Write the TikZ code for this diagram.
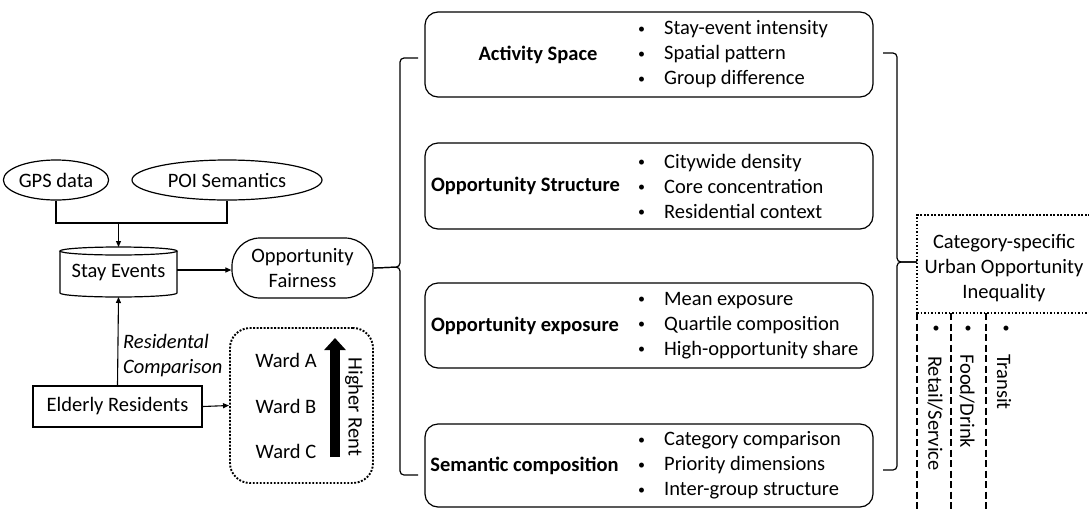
\documentclass[tikz,border=0pt]{standalone}
\usepackage{fontspec}
\setmainfont{Carlito}
\usetikzlibrary{arrows.meta,shapes.geometric}
\newcommand\smbul{{\fontsize{14pt}{14pt}\selectfont\raisebox{1.6pt}{\textbullet}}}
\newcommand\itm[1]{\makebox[26pt][l]{\smbul}#1}
\tikzset{
  base/.style={font=\fontsize{20.5pt}{25pt}\selectfont, inner sep=0pt},
  line/.style={line width=1.2pt},
  arr/.style={line width=1.1pt, -{Triangle[length=6pt,width=5pt]}},
  oval/.style={base, ellipse, draw, line width=1.2pt},
  bigbox/.style={base, draw, line width=1.2pt, rounded corners=13pt},
  lbl/.style={base, font=\fontsize{20.5pt}{25pt}\selectfont\bfseries},
  lst/.style={base, align=left, anchor=west},
  dotline/.style={line width=1.9pt, dash pattern=on 1.9pt off 1.6pt},
  dashline/.style={line width=1.9pt, dash pattern=on 7pt off 3.5pt},
  rot/.style={base, rotate=-90, anchor=west},
}
\begin{document}
\begin{tikzpicture}[x=1pt,y=-1pt]
\useasboundingbox (0,0) rectangle (1089,509);
% inputs
\node[oval, minimum width=98pt, minimum height=40pt] (gps) at (56,180) {GPS data};
\node[oval, minimum width=190pt, minimum height=40pt] (poi) at (227,180) {POI Semantics};
% stay events cylinder
\node[base, minimum width=117pt, minimum height=50pt] (se) at (118.5,272) {Stay Events};
\draw[line] (60,251) -- (60,293) arc[start angle=180, end angle=360, x radius=58.5pt, y radius=4pt] -- (177,251);
\draw[line] (118.5,251) ellipse[x radius=58.5pt, y radius=4pt];
\coordinate (j) at (118.5,223);
\draw[line] (gps.south) |- (j) -| (poi.south);
\draw[arr] (j) -- (118.5,247);
% opportunity fairness
\node[base, draw, line width=1.2pt, rounded corners=28pt, minimum width=141pt, minimum height=60pt, align=center] (of) at (302.5,268) {Opportunity\\Fairness};
\draw[arr] (se.east) ++(0,-2) -- (of.west |- 0,270);
% elderly
\node[base, draw, line width=1.8pt, minimum width=169pt, minimum height=41pt] (er) at (117.5,406.5) {Elderly Residents};
\draw[arr] (er.north) -- (118.5,297);
\node[base, anchor=west, align=left, font=\fontsize{20.5pt}{25pt}\selectfont\itshape] (rc) at (123,355.5) {Residental\\Comparison};
% wards
\node[base, draw, dotline, rounded corners=20pt, minimum width=143pt, minimum height=155pt] (wards) at (301.5,405.5) {};
\draw[arr] (er.east) -- (wards.west);
\node[base] (wa) at (286,360) {Ward A};
\node[base] (wb) at (286,406) {Ward B};
\node[base] (wc) at (286,451) {Ward C};
\coordinate (ra) at (335,457);
\coordinate (rb) at (335,338);
\draw[line width=10.5pt, -{Triangle[length=12pt,width=21pt]}] (ra) -- (rb);
\node[base, rotate=-90] (hr) at (354,407) {Higher Rent};
% left brace
\coordinate (lt) at (418,58);
\coordinate (lb) at (418,475);
\draw[line, rounded corners=4pt] (lt) -- (400,58) -- (400,267) -- (of.east);
\draw[line, rounded corners=4pt] (of.east) -- (400,267) -- (400,475) -- (lb);
% four boxes
\node[bigbox, minimum width=448pt, minimum height=85pt] (b1) at (649,54.5) {};
\node[bigbox, minimum width=448pt, minimum height=86pt] (b2) at (649,186) {};
\node[bigbox, minimum width=448pt, minimum height=85pt] (b3) at (649,325.5) {};
\node[bigbox, minimum width=448pt, minimum height=83pt] (b4) at (649,465.5) {};
\node[lbl] (l1) at (538,54.5) {Activity Space};
\node[lbl] (l2) at (525.5,186) {Opportunity Structure};
\node[lbl] (l3) at (525,325.5) {Opportunity exposure};
\node[lbl] (l4) at (524.5,465.5) {Semantic composition};
\node[lst] (t1) at (638,54.5) {\itm{Stay-event intensity}\\\itm{Spatial pattern}\\\itm{Group difference}};
\node[lst] (t2) at (638,186) {\itm{Citywide density}\\\itm{Core concentration}\\\itm{Residential context}};
\node[lst] (t3) at (638,325.5) {\itm{Mean exposure}\\\itm{Quartile composition}\\\itm{High-opportunity share}};
\node[lst] (t4) at (638,465.5) {\itm{Category comparison}\\\itm{Priority dimensions}\\\itm{Inter-group structure}};
% right brace
\coordinate (rt) at (883,53);
\coordinate (rbt) at (883,470);
\coordinate (tip) at (917,262);
\draw[line, rounded corners=4pt] (rt) -- (897,53) -- (897,262) -- (tip);
\draw[line, rounded corners=4pt] (tip) -- (897,262) -- (897,470) -- (rbt);
% category box
\node[base, align=center] (cat) at (1004,268) {Category-specific\\Urban Opportunity\\Inequality};
\draw[dotline] (1090,215) -- (917,215) -- (917,313);
\draw[dotline] (917,313) -- (1090,313);
\draw[dashline] (917,313) -- (917,510);
\draw[dashline] (951,313) -- (951,510);
\draw[dashline] (986,313) -- (986,510);
\node[base] (d1) at (936,330) {\smbul};
\node[base] (d2) at (968,330) {\smbul};
\node[base] (d3) at (1006,330) {\smbul};
\node[rot] (c1) at (935,356) {Retail/Service};
\node[rot] (c2) at (967,354) {Food/Drink};
\node[rot] (c3) at (1004,354) {Transit};
\end{tikzpicture}
\end{document}
